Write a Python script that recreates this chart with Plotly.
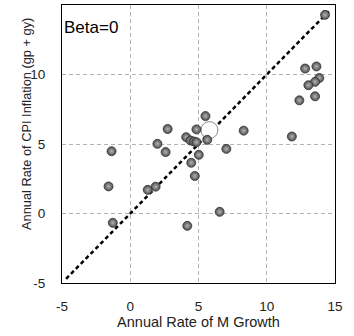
import plotly.graph_objects as go

# Annual rate of money growth (x) and CPI inflation (y), per country
money_growth = [14.27, 12.81, 13.64, 13.85, 13.54, 13.05, 12.39, 13.54,
                8.31, 11.84, 5.51, 2.74, 4.85, 4.10, 4.42, 4.66, 4.85,
                5.64, 1.99, 7.04, 2.59, 5.02, -1.37, 4.47, 4.73, 1.86,
                1.28, -1.59, -1.28, 6.55, 4.18]
cpi_inflation = [14.29, 10.43, 10.58, 9.75, 9.47, 9.23, 8.14, 8.43,
                 5.96, 5.54, 7.01, 6.08, 6.05, 5.49, 5.25, 5.18, 5.13,
                 5.30, 5.01, 4.65, 4.42, 4.22, 4.48, 3.65, 2.70, 1.93,
                 1.70, 1.95, -0.67, 0.12, -0.89]

# Highlighted observation
highlight_x = [5.8]
highlight_y = [6.0]

# 45-degree reference line
line_x = [-4.7, 14.7]
line_y = [-4.7, 14.7]

ticks = [-5, 0, 5, 10, 15]
font = "Liberation Sans, Arial, sans-serif"

fig = go.Figure()

fig.add_trace(go.Scatter(
    x=line_x, y=line_y, mode="lines",
    line=dict(color="black", width=2.5, dash="4px,3px"),
    hoverinfo="skip", showlegend=False,
))

fig.add_trace(go.Scatter(
    x=highlight_x, y=highlight_y, mode="markers",
    marker=dict(size=17, color="white", line=dict(color="#8a8a8a", width=1)),
    showlegend=False,
))

fig.add_trace(go.Scatter(
    x=money_growth, y=cpi_inflation, mode="markers",
    marker=dict(size=9, color="#4e4e4e",
                gradient=dict(type="radial", color="#b4b4b4"),
                line=dict(color="#333333", width=0.8)),
    showlegend=False,
))

axis_common = dict(
    range=[-5, 15], tickvals=ticks, ticktext=[str(t) for t in ticks],
    showgrid=True, gridcolor="#b4b4b4", griddash="4px,3px", gridwidth=1,
    zeroline=False, showline=True, linecolor="black", linewidth=1.2,
    mirror=True, ticks="", tickfont=dict(size=13.5, color="#222", family=font),
)

fig.update_xaxes(**axis_common, ticklabelstandoff=11,
                 title=dict(text="Annual Rate of M Growth",
                            font=dict(size=14.5, color="#222", family=font),
                            standoff=1))
fig.update_yaxes(**axis_common, ticklabelstandoff=13)

# Vertical axis title, placed as a rotated annotation
fig.add_annotation(
    x=0, y=0.572, xref="paper", yref="paper", xanchor="center", yanchor="middle",
    xshift=-35, text="Annual Rate of CPI Inflation (gp + gy)", textangle=-90,
    showarrow=False, font=dict(size=12.8, color="#222", family=font),
)

fig.add_annotation(
    x=0, y=1, xref="paper", yref="paper", xanchor="left", yanchor="top",
    xshift=0, yshift=-11, text="Beta=0", showarrow=False,
    font=dict(size=17, color="black", family=font),
)

fig.update_layout(
    width=354, height=336,
    margin=dict(l=62, r=19, t=5, b=53),
    paper_bgcolor="white", plot_bgcolor="white",
    font=dict(family=font),
)

fig.write_html("out.html")
